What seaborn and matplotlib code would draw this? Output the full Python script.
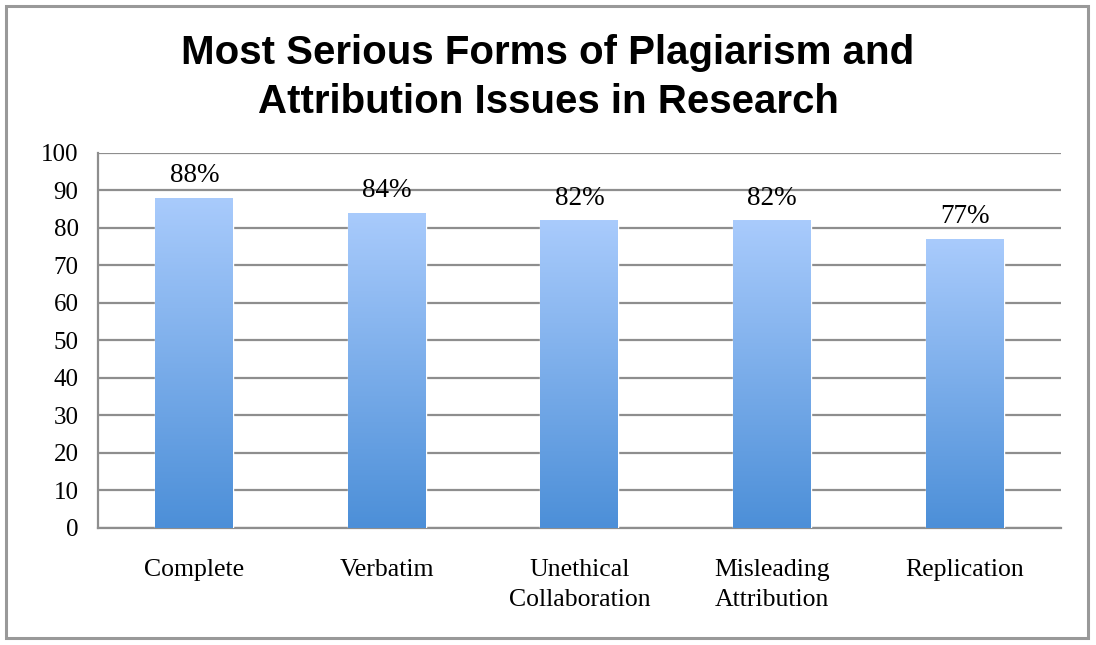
"""
Bar chart: most serious forms of plagiarism and attribution issues.
"""

import numpy as np
import pandas as pd
import seaborn as sns
import matplotlib.pyplot as plt
from matplotlib.colors import LinearSegmentedColormap
from matplotlib.patches import Rectangle


categories = [
    "Complete",
    "Verbatim",
    "Unethical\nCollaboration",
    "Misleading\nAttribution",
    "Replication"
]
percentages = [88, 84, 82, 82, 77]
y_ticks = [0, 10, 20, 30, 40, 50, 60, 70, 80, 90, 100]

TITLE = "Most Serious Forms of Plagiarism and\nAttribution Issues in Research"
GRID_COLOR = "#8e8e8e"
TOP_BLUE = "#A9CBFC"
BOTTOM_BLUE = "#4C8FD8"


def create_dataframe() -> pd.DataFrame:
    """
    Build the chart table.
    """

    return pd.DataFrame(
        {
            "Form": categories,
            "Percent": percentages
        }
    )


def paint_gradient(ax, bars) -> None:
    """
    Fill each bar with a vertical light-to-dark blue gradient.
    """

    cmap = LinearSegmentedColormap.from_list(
        "bar_blue", [BOTTOM_BLUE, TOP_BLUE]
    )
    gradient = np.linspace(0, 1, 256).reshape(-1, 1)

    for bar in bars:
        x0 = bar.get_x()
        width = bar.get_width()
        height = bar.get_height()
        image = ax.imshow(
            gradient,
            cmap=cmap,
            aspect="auto",
            origin="lower",
            extent=(x0, x0 + width, 0, height),
            zorder=3
        )
        image.set_clip_path(bar)
        bar.set_facecolor("none")


def create_chart(dataframe: pd.DataFrame) -> None:
    """
    Draw the bar chart and save it.
    """

    sns.set_style("white")
    plt.rcParams["font.family"] = ["Liberation Serif", "DejaVu Serif"]
    plt.rcParams["text.color"] = "black"
    plt.rcParams["xtick.labelcolor"] = "black"
    plt.rcParams["ytick.labelcolor"] = "black"

    fig = plt.figure(figsize=(10.96, 6.45), dpi=100)
    ax = fig.add_axes([0.0894, 0.1814, 0.8786, 0.5814])

    sns.barplot(
        data=dataframe,
        x="Form",
        y="Percent",
        color=BOTTOM_BLUE,
        width=0.405,
        saturation=1,
        ax=ax,
        zorder=3
    )

    bars = list(ax.patches)
    paint_gradient(ax, bars)

    for bar, value in zip(bars, percentages):
        ax.text(
            bar.get_x() + bar.get_width() / 2,
            value + 2.6,
            f"{value}%",
            ha="center",
            va="bottom",
            fontsize=19.5,
            zorder=4
        )

    ax.set_xlim(-0.5, len(categories) - 0.5)
    ax.set_ylim(0, 100)
    ax.set_yticks(y_ticks)
    ax.set_xlabel("")
    ax.set_ylabel("")

    ax.grid(axis="y", color=GRID_COLOR, linewidth=1.6, zorder=0)
    ax.set_axisbelow(True)

    for side in ["top", "right"]:
        ax.spines[side].set_visible(False)
    for side in ["left", "bottom"]:
        ax.spines[side].set_color(GRID_COLOR)
        ax.spines[side].set_linewidth(1.6)

    ax.tick_params(
        axis="y", length=6, width=1.6, color=GRID_COLOR,
        labelsize=18, pad=8
    )
    ax.tick_params(axis="x", length=0, labelsize=18.5, pad=22)
    ax.set_xticks(
        np.arange(-0.5, len(categories), 1.0), minor=True
    )
    ax.tick_params(
        axis="x", which="minor", length=6, width=1.6,
        color=GRID_COLOR, direction="out"
    )
    for label in ax.get_xticklabels():
        label.set_linespacing(1.5)

    fig.text(
        0.5,
        0.88,
        TITLE,
        ha="center",
        va="center",
        fontsize=29,
        fontweight="bold",
        family=["Liberation Sans", "DejaVu Sans"],
        linespacing=1.35
    )

    fig.patches.append(
        Rectangle(
            (6 / 1096, 7 / 645),
            1082 / 1096,
            632 / 645,
            transform=fig.transFigure,
            fill=False,
            edgecolor="#999999",
            linewidth=2.2
        )
    )

    fig.savefig("out.png", dpi=100)


def main() -> None:
    """
    Execute the visualization.
    """

    dataframe = create_dataframe()
    create_chart(dataframe)


if __name__ == "__main__":
    main()
